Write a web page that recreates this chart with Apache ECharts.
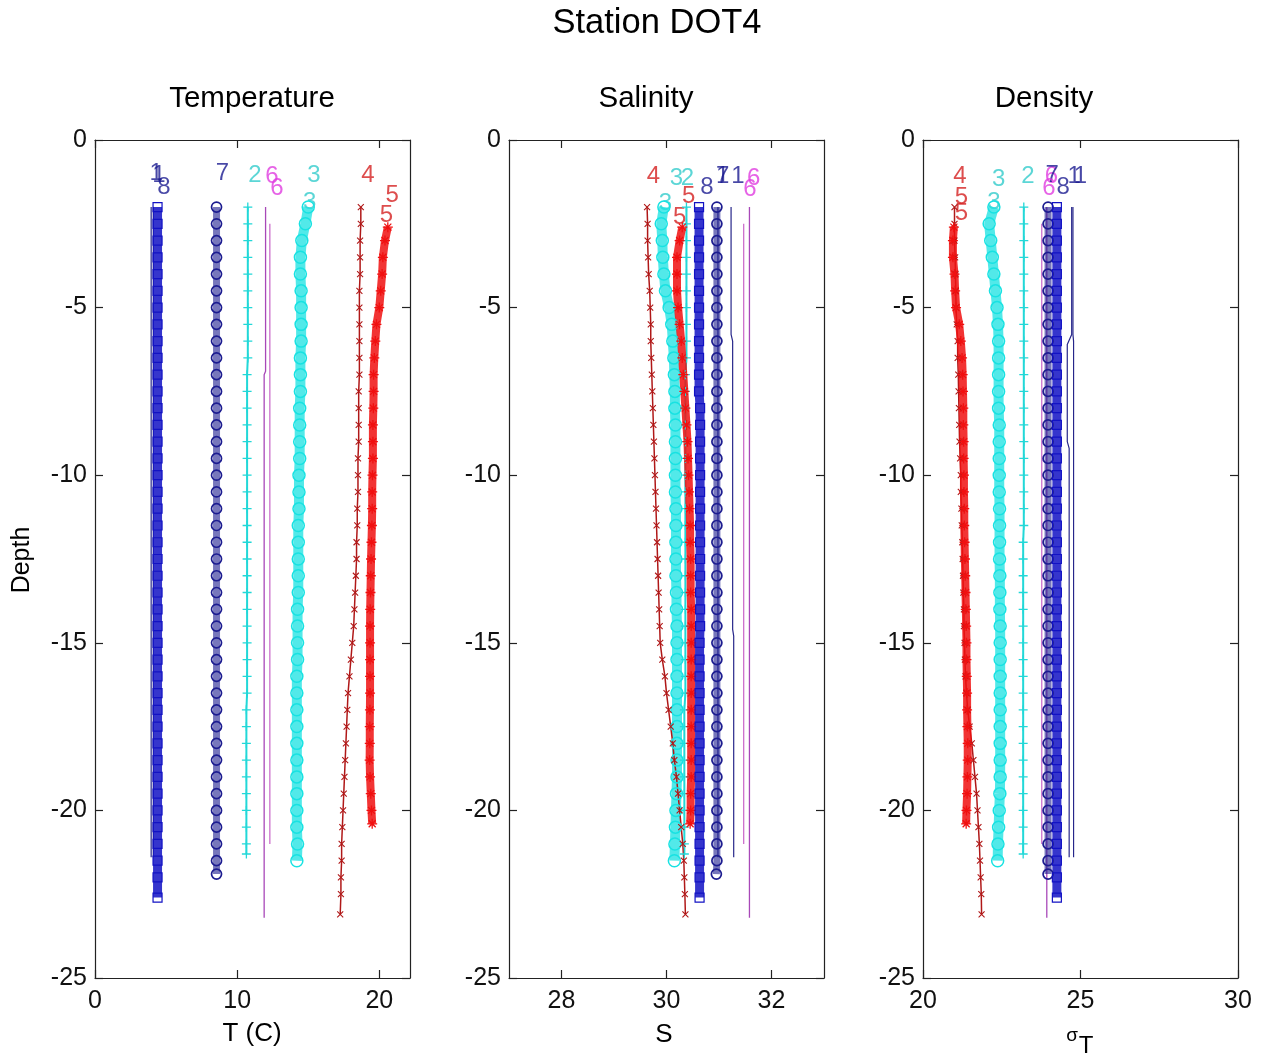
<!DOCTYPE html>
<html><head><meta charset="utf-8">
<script src="https://cdn.jsdelivr.net/npm/echarts@6/dist/echarts.min.js"></script>
<style>html,body{margin:0;padding:0;background:#fff}#c{width:1262px;height:1057px}</style>
</head><body><div id="c"></div>
<script>
// ---------------- DATA ----------------
// Cast 1 (two line segments)
const d1a = [-2.0, -5.8, -6.0, -14.6, -14.8, -21.4];
const t1a = [4.1, 4.1, 4.1, 4.1, 4.1, 4.1];
const s1a = [31.23, 31.23, 31.26, 31.26, 31.28, 31.28];
const g1a = [24.76, 24.76, 24.78, 24.78, 24.78, 24.78];
const d1b = [-2.0, -5.8, -6.1, -9.0, -9.2, -21.4];
const t1b = [3.95, 3.95, 3.95, 3.95, 3.95, 3.95];
const s1b = [30.98, 30.98, 30.98, 30.98, 30.98, 30.98];
const g1b = [24.72, 24.72, 24.58, 24.58, 24.64, 24.64];
// Cast 2 (+)
const d2 = [-2.0,-2.5,-3.0,-3.5,-4.0,-4.5,-5.0,-5.5,-6.0,-6.5,
  -7.0,-7.5,-8.0,-8.5,-9.0,-9.5,-10.0,-10.5,-11.0,-11.5,
  -12.0,-12.5,-13.0,-13.5,-14.0,-14.5,-15.0,-15.5,-16.0,-16.5,
  -17.0,-17.5,-18.0,-18.5,-19.0,-19.5,-20.0,-20.5,-21.0,-21.3];
const t2 = [10.75,10.75,10.75,10.75,10.75,10.75,10.75,10.75,10.75,10.75,
  10.7,10.7,10.7,10.7,10.7,10.7,10.7,10.7,10.7,10.7,
  10.7,10.7,10.7,10.7,10.7,10.7,10.7,10.7,10.7,10.7,
  10.65,10.65,10.65,10.65,10.65,10.65,10.65,10.65,10.65,10.65];
const s2 = [30.38,30.38,30.38,30.38,30.38,30.38,30.38,30.38,30.38,30.38,
  30.36,30.36,30.36,30.36,30.36,30.36,30.36,30.36,30.36,30.36,
  30.36,30.36,30.36,30.36,30.36,30.36,30.36,30.36,30.36,30.36,
  30.34,30.34,30.34,30.34,30.34,30.34,30.34,30.34,30.34,30.34];
const g2 = [23.2,23.2,23.2,23.2,23.2,23.2,23.2,23.2,23.2,23.2,
  23.2,23.2,23.2,23.2,23.2,23.2,23.2,23.2,23.2,23.2,
  23.18,23.18,23.18,23.18,23.18,23.18,23.18,23.18,23.18,23.18,
  23.18,23.18,23.18,23.18,23.18,23.18,23.18,23.18,23.18,23.18];
// Cast 3 (o, cyan)
const d3 = [-2.0,-2.5,-3.0,-3.5,-4.0,-4.5,-5.0,-5.5,-6.0,-6.5,
  -7.0,-7.5,-8.0,-8.5,-9.0,-9.5,-10.0,-10.5,-11.0,-11.5,
  -12.0,-12.5,-13.0,-13.5,-14.0,-14.5,-15.0,-15.5,-16.0,-16.5,
  -17.0,-17.5,-18.0,-18.5,-19.0,-19.5,-20.0,-20.5,-21.0,-21.5];
const t3 = [15.0,14.8,14.55,14.45,14.45,14.5,14.5,14.5,14.5,14.45,
  14.45,14.45,14.4,14.4,14.4,14.4,14.35,14.35,14.35,14.3,
  14.3,14.3,14.3,14.3,14.25,14.25,14.25,14.25,14.2,14.2,
  14.2,14.2,14.2,14.2,14.2,14.2,14.2,14.2,14.25,14.2];
const s3 = [29.95,29.9,29.92,29.93,29.95,29.98,30.05,30.1,30.12,30.14,
  30.15,30.16,30.16,30.17,30.17,30.17,30.17,30.17,30.18,30.18,
  30.18,30.18,30.18,30.19,30.19,30.2,30.2,30.2,30.2,30.2,
  30.2,30.2,30.2,30.2,30.2,30.19,30.18,30.17,30.16,30.15];
const g3 = [22.25,22.1,22.15,22.2,22.25,22.3,22.35,22.38,22.4,22.4,
  22.4,22.4,22.4,22.42,22.42,22.42,22.42,22.42,22.43,22.43,
  22.43,22.43,22.44,22.44,22.44,22.45,22.45,22.45,22.45,22.45,
  22.45,22.45,22.45,22.45,22.45,22.44,22.42,22.4,22.38,22.37];
// Cast 4 (x, dark red)
const d4 = [-2.0,-2.5,-3.0,-3.5,-4.0,-4.5,-5.0,-5.5,-6.0,-6.5,
  -7.0,-7.5,-8.0,-8.5,-9.0,-9.5,-10.0,-10.5,-11.0,-11.5,
  -12.0,-12.5,-13.0,-13.5,-14.0,-14.5,-15.0,-15.5,-16.0,-16.5,
  -17.0,-17.5,-18.0,-18.5,-19.0,-19.5,-20.0,-20.5,-21.0,-21.5,
  -22.0,-22.5,-23.1];
const t4 = [18.7,18.7,18.65,18.65,18.65,18.6,18.6,18.6,18.6,18.6,
  18.6,18.55,18.55,18.55,18.55,18.5,18.5,18.5,18.45,18.45,
  18.4,18.4,18.35,18.3,18.25,18.2,18.1,18.0,17.9,17.8,
  17.75,17.7,17.65,17.6,17.55,17.5,17.45,17.4,17.35,17.35,
  17.3,17.3,17.25];
const s4 = [29.63,29.64,29.64,29.65,29.66,29.68,29.69,29.7,29.7,29.71,
  29.72,29.73,29.74,29.75,29.76,29.77,29.78,29.79,29.8,29.81,
  29.82,29.83,29.84,29.85,29.86,29.87,29.88,29.92,29.97,30.0,
  30.04,30.08,30.12,30.15,30.19,30.22,30.25,30.28,30.31,30.33,
  30.34,30.35,30.36];
const g4 = [21.0,21.0,21.0,21.02,21.03,21.04,21.05,21.07,21.1,21.1,
  21.12,21.13,21.14,21.15,21.16,21.18,21.2,21.2,21.22,21.23,
  21.25,21.26,21.27,21.28,21.3,21.3,21.32,21.33,21.35,21.38,
  21.42,21.48,21.55,21.6,21.65,21.7,21.73,21.76,21.79,21.81,
  21.83,21.85,21.86];
// Cast 5 (*, red)
const d5 = [-2.6,-3.0,-3.5,-4.0,-4.5,-5.0,-5.5,-6.0,-6.5,-7.0,
  -7.5,-8.0,-8.5,-9.0,-9.5,-10.0,-10.5,-11.0,-11.5,-12.0,
  -12.5,-13.0,-13.5,-14.0,-14.5,-15.0,-15.5,-16.0,-16.5,-17.0,
  -17.5,-18.0,-18.5,-19.0,-19.5,-20.0,-20.4];
const t5 = [20.6,20.4,20.25,20.2,20.1,20.0,19.8,19.72,19.65,19.6,
  19.6,19.58,19.55,19.55,19.55,19.52,19.5,19.5,19.48,19.45,
  19.42,19.4,19.38,19.36,19.35,19.35,19.35,19.35,19.35,19.34,
  19.33,19.33,19.32,19.35,19.4,19.45,19.5];
const s5 = [30.3,30.25,30.2,30.2,30.2,30.22,30.25,30.28,30.3,30.32,
  30.34,30.36,30.38,30.4,30.41,30.42,30.43,30.44,30.45,30.45,
  30.46,30.46,30.46,30.47,30.47,30.47,30.47,30.47,30.47,30.47,
  30.47,30.47,30.47,30.47,30.46,30.46,30.45];
const g5 = [20.98,20.95,20.95,21.0,21.02,21.05,21.15,21.2,21.24,21.26,
  21.27,21.28,21.28,21.29,21.29,21.3,21.3,21.31,21.31,21.32,
  21.33,21.34,21.35,21.36,21.37,21.38,21.38,21.39,21.4,21.4,
  21.41,21.42,21.42,21.41,21.4,21.38,21.37];
// Cast 6 (two line segments)
const d6a = [-2.0, -6.9, -7.0, -23.2];
const t6a = [12.0, 12.0, 11.9, 11.9];
const s6a = [31.58, 31.58, 31.58, 31.58];
const g6a = [23.93, 23.93, 23.93, 23.93];
const d6b = [-2.5, -21.0];
const t6b = [12.3, 12.3];
const s6b = [31.47, 31.47];
const g6b = [23.77, 23.77];
// Cast 7 (o, navy)
const d7 = [-2.0,-2.5,-3.0,-3.5,-4.0,-4.5,-5.0,-5.5,-6.0,-6.5,
  -7.0,-7.5,-8.0,-8.5,-9.0,-9.5,-10.0,-10.5,-11.0,-11.5,
  -12.0,-12.5,-13.0,-13.5,-14.0,-14.5,-15.0,-15.5,-16.0,-16.5,
  -17.0,-17.5,-18.0,-18.5,-19.0,-19.5,-20.0,-20.5,-21.0,-21.5,
  -21.9];
const t7 = [8.55,8.55,8.55,8.55,8.55,8.55,8.55,8.55,8.55,8.55,
  8.55,8.55,8.55,8.55,8.55,8.55,8.55,8.55,8.55,8.55,
  8.55,8.55,8.55,8.55,8.55,8.55,8.55,8.55,8.55,8.55,
  8.55,8.55,8.55,8.55,8.55,8.55,8.55,8.55,8.55,8.55,
  8.55];
const s7 = [30.96,30.96,30.96,30.96,30.96,30.96,30.96,30.96,30.96,30.96,
  30.96,30.96,30.96,30.96,30.96,30.96,30.96,30.96,30.96,30.96,
  30.96,30.96,30.96,30.96,30.96,30.96,30.96,30.96,30.96,30.96,
  30.96,30.96,30.96,30.96,30.96,30.96,30.96,30.96,30.96,30.96,
  30.95];
const g7 = [23.97,23.97,23.97,23.97,23.97,23.97,23.97,23.97,23.97,23.97,
  23.97,23.97,23.97,23.97,23.97,23.97,23.97,23.97,23.97,23.97,
  23.97,23.97,23.97,23.97,23.97,23.97,23.97,23.97,23.97,23.97,
  23.97,23.97,23.97,23.97,23.97,23.97,23.97,23.97,23.97,23.97,
  23.97];
// Cast 8 (squares, blue)
const d8 = [-2.0,-2.5,-3.0,-3.5,-4.0,-4.5,-5.0,-5.5,-6.0,-6.5,
  -7.0,-7.5,-8.0,-8.5,-9.0,-9.5,-10.0,-10.5,-11.0,-11.5,
  -12.0,-12.5,-13.0,-13.5,-14.0,-14.5,-15.0,-15.5,-16.0,-16.5,
  -17.0,-17.5,-18.0,-18.5,-19.0,-19.5,-20.0,-20.5,-21.0,-21.5,
  -22.0,-22.6];
const t8 = [4.4,4.4,4.4,4.4,4.4,4.4,4.4,4.4,4.4,4.4,
  4.4,4.4,4.4,4.4,4.4,4.4,4.4,4.4,4.4,4.4,
  4.4,4.4,4.4,4.4,4.4,4.4,4.4,4.4,4.4,4.4,
  4.4,4.4,4.4,4.4,4.4,4.4,4.4,4.4,4.4,4.4,
  4.4,4.4];
const s8 = [30.62,30.62,30.62,30.62,30.62,30.62,30.62,30.62,30.62,30.62,
  30.62,30.62,30.64,30.64,30.64,30.64,30.64,30.64,30.64,30.64,
  30.64,30.64,30.64,30.64,30.64,30.64,30.63,30.63,30.63,30.63,
  30.63,30.63,30.63,30.63,30.63,30.63,30.63,30.63,30.63,30.63,
  30.63,30.63];
const g8 = [24.25,24.25,24.25,24.25,24.25,24.25,24.25,24.25,24.25,24.25,
  24.25,24.25,24.25,24.25,24.25,24.25,24.25,24.25,24.25,24.25,
  24.25,24.25,24.25,24.25,24.25,24.25,24.25,24.25,24.25,24.25,
  24.25,24.25,24.25,24.25,24.25,24.25,24.25,24.25,24.25,24.25,
  24.25,24.25];

// cast number labels [text, value, depth]
const labelsT = [['1',4.3,-1.0],['1',4.5,-1.05],['8',4.85,-1.4],['7',8.96,-1.0],['2',11.25,-1.05],
  ['6',12.45,-1.1],['6',12.8,-1.45],['3',15.4,-1.05],['3',15.1,-1.85],['4',19.2,-1.05],['5',20.9,-1.65],['5',20.5,-2.25]];
const labelsS = [['4',29.75,-1.1],['3',30.19,-1.13],['2',30.4,-1.13],['8',30.77,-1.4],['7',31.07,-1.1],['1',31.07,-1.1],
  ['1',31.36,-1.1],['6',31.66,-1.13],['6',31.59,-1.46],['5',30.42,-1.67],['5',30.25,-2.3],['3',29.98,-1.9]];
const labelsD = [['4',21.17,-1.1],['5',21.22,-1.7],['5',21.22,-2.2],['3',22.4,-1.16],['3',22.25,-1.85],['2',23.33,-1.1],
  ['6',24.08,-1.1],['7',24.1,-1.07],['6',24.0,-1.43],['8',24.45,-1.4],['1',24.8,-1.1],['1',25.0,-1.1]];

// axis ticks
const tTicks = [0, 10, 20];
const sTicks = [28, 30, 32];
const gTicks = [20, 25, 30];

// ---------------- STYLE ----------------
const FONT = '"Liberation Sans", Arial, sans-serif';
const plusPath = 'path://M0,5L10,5M5,0L5,10';
const xPath = 'path://M0,0L10,10M10,0L0,10';
const starPath = 'path://M0,5L10,5M5,0L5,10M1.5,1.5L8.5,8.5M8.5,1.5L1.5,8.5';
const labelColor = {'1':'#1a1a90','7':'#1a1a90','8':'#1a1a90','2':'#33cccc','3':'#33cccc','4':'#d42020','5':'#d42020','6':'#e03ce0'};

const casts = [
  {d:d1a, T:t1a, S:s1a, G:g1a, st:{color:'#26268a', symbol:'none', lw:1.2}},
  {d:d1b, T:t1b, S:s1b, G:g1b, st:{color:'#26268a', symbol:'none', lw:1.2}},
  {d:d2, T:t2, S:s2, G:g2, st:{color:'#22d8d8', symbol:plusPath, size:9, lw:2, bw:1.3}},
  {d:d3, T:t3, S:s3, G:g3, st:{color:'#18e2e2', symbol:'circle', size:12, lw:10, lop:0.75, bw:1.5}},
  {d:d4, T:t4, S:s4, G:g4, st:{color:'#b01818', symbol:xPath, size:6, lw:1.5, bw:1.1}},
  {d:d5, T:t5, S:s5, G:g5, st:{color:'#f01010', symbol:starPath, size:10, lw:8, lop:0.85, bw:1.3}},
  {d:d6a, T:t6a, S:s6a, G:g6a, st:{color:'#a848b8', symbol:'none', lw:1.3}},
  {d:d6b, T:t6b, S:s6b, G:g6b, st:{color:'#cc70cc', symbol:'none', lw:1.3}},
  {d:d7, T:t7, S:s7, G:g7, st:{color:'#1c1c90', symbol:'circle', size:10, lw:7, lop:0.6, bw:1.7}},
  {d:d8, T:t8, S:s8, G:g8, st:{color:'#1212c4', symbol:'rect', size:9, lw:9, lop:0.85, bw:1.2}}
];

function hexA(hex, a) {
  const n = parseInt(hex.slice(1), 16);
  return 'rgba(' + (n >> 16) + ',' + ((n >> 8) & 255) + ',' + (n & 255) + ',' + a + ')';
}

const panels = [
  {key:'T', min:0, max:22.16, ticks:tTicks, left:95, width:315, labels:labelsT},
  {key:'S', min:27, max:33, ticks:sTicks, left:509, width:315, labels:labelsS},
  {key:'G', min:20, max:30, ticks:gTicks, left:923, width:315, labels:labelsD}
];

const grid = [], xAxis = [], yAxis = [], series = [];
const axisLine = {show:true, onZero:false, lineStyle:{color:'#222', width:1.2}};
const tick = (vals) => {
  const t = {show:true, inside:true, length:8, lineStyle:{color:'#222', width:1.2}};
  if (vals) t.customValues = vals;
  return t;
};
panels.forEach((p, i) => {
  grid.push({left:p.left, top:140, width:p.width, height:838, show:false});
  xAxis.push({type:'value', gridIndex:i, position:'bottom', min:p.min, max:p.max,
    axisLine, splitLine:{show:false}, axisTick:tick(p.ticks),
    axisLabel:{show:true, customValues:p.ticks, fontSize:25, fontFamily:FONT, color:'#111', margin:11}});
  xAxis.push({type:'value', gridIndex:i, position:'top', min:p.min, max:p.max,
    axisLine, splitLine:{show:false}, axisTick:tick(p.ticks), axisLabel:{show:false}});
  yAxis.push({type:'value', gridIndex:i, position:'left', min:-25, max:0, interval:5,
    axisLine, splitLine:{show:false}, axisTick:tick(null),
    axisLabel:{show:true, fontSize:25, fontFamily:FONT, color:'#111', margin:8}});
  yAxis.push({type:'value', gridIndex:i, position:'right', min:-25, max:0, interval:5,
    axisLine, splitLine:{show:false}, axisTick:tick(null), axisLabel:{show:false}});

  casts.forEach(c => {
    const st = c.st;
    const vals = c[p.key];
    const s = {
      type:'line', xAxisIndex:2*i, yAxisIndex:2*i, silent:true, animation:false,
      data: c.d.map((z, k) => [vals[k], z]),
      lineStyle:{color: st.lop ? hexA(st.color, st.lop) : st.color, width: st.lw},
      symbol: st.symbol, showSymbol: st.symbol !== 'none', symbolSize: st.size || 0
    };
    if (st.symbol !== 'none') {
      s.itemStyle = {color:'rgba(0,0,0,0)', borderColor: st.color, borderWidth: st.bw};
    }
    series.push(s);
  });

  series.push({
    type:'scatter', xAxisIndex:2*i, yAxisIndex:2*i, silent:true, animation:false,
    symbolSize:1, itemStyle:{color:'rgba(0,0,0,0)'},
    data: p.labels.map(l => ({name:l[0], value:[l[1], l[2]],
      label:{show:true, position:'inside', formatter:l[0], color:labelColor[l[0]],
        fontSize:24, fontFamily:FONT}}))
  });
});

const txt = (text, x, y, size, extra) => Object.assign({
  type:'text', x:x, y:y, silent:true,
  style:{text:text, fontSize:size, fontFamily:FONT, fill:'#000', align:'center', verticalAlign:'middle',
    textAlign:'center', textVerticalAlign:'middle'}
}, extra || {});

const chart = echarts.init(document.getElementById('c'), null, {renderer:'canvas'});
chart.setOption({
  backgroundColor:'#fff',
  animation:false,
  grid, xAxis, yAxis, series,
  graphic:[
    txt('Station DOT4', 657, 23, 34.5),
    txt('Temperature', 252, 99, 29.5),
    txt('Salinity', 646, 99, 29.5),
    txt('Density', 1044, 99, 29.5),
    txt('T (C)', 252, 1034, 26),
    txt('S', 664, 1035, 26),
    txt('σ', 1072, 1036, 19),
    txt('T', 1086, 1046, 24),
    txt('Depth', 22, 560, 25, {rotation: Math.PI / 2})
  ]
});
</script>
</body></html>
